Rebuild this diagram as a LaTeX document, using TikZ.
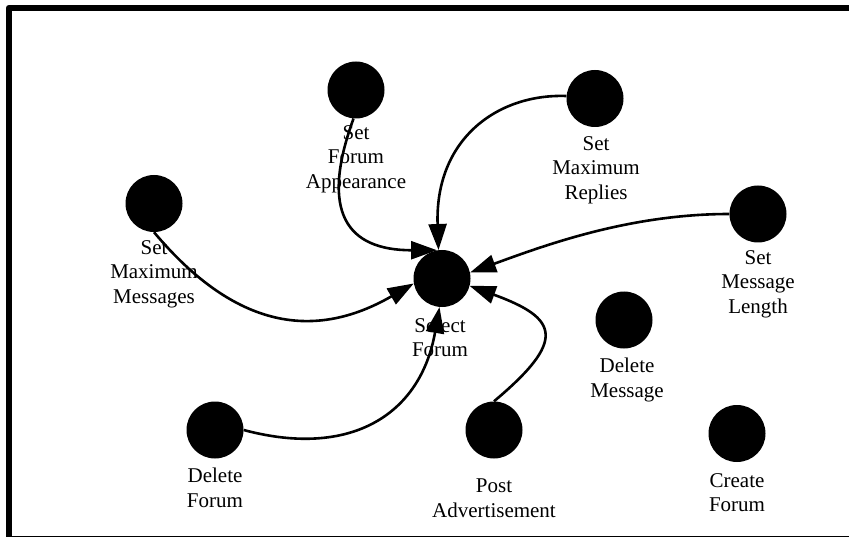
\documentclass[tikz,border=0pt]{standalone}
\usepackage{fontspec}
\setmainfont{Liberation Serif}
\usetikzlibrary{arrows.meta,calc}
\begin{document}
\begin{tikzpicture}[x=1pt,y=1pt,
  usecase/.style={circle,fill=black,minimum size=57pt,inner sep=0pt},
  caption/.style={anchor=north,inner sep=0pt,align=center,
    font=\fontsize{21}{24.5}\selectfont},
  flow/.style={line width=2.6pt,-{Triangle[length=26pt,width=18pt]}}]
\useasboundingbox (0,0) rectangle (849,539);

% frame: heavy left and top edges, thin bottom edge
\draw[line width=1.3pt] (9,2.5) -- (849,2.5);
\draw[line width=6pt,line join=round] (9,2.5) -- (9,531.3) -- (849,531.3);

% use cases
\node[usecase] (sf)  at (442,260.5) {};
\node[usecase] (sfa) at (356,449)   {};
\node[usecase] (smr) at (595,440.5) {};
\node[usecase] (smm) at (154,335.5) {};
\node[usecase] (sml) at (758,325)   {};
\node[usecase] (dm)  at (624,219)   {};
\node[usecase] (df)  at (215,109)   {};
\node[usecase] (pa)  at (494,109)   {};
\node[usecase] (cf)  at (737,105.5) {};

% captions
\node[caption] (sfl)  at ($(sf)+(-2,-39)$)   {Select\\Forum};
\node[caption] (sfal) at ($(sfa)+(0,-35)$)   {Set\\Forum\\Appearance};
\node[caption] (smrl) at ($(smr)+(1,-37.5)$) {Set\\Maximum\\Replies};
\node[caption] (smml) at ($(smm)+(0,-36.5)$) {Set\\Maximum\\Messages};
\node[caption] (smll) at ($(sml)+(0,-36)$)   {Set\\Message\\Length};
\node[caption] (dml)  at ($(dm)+(3,-38)$)    {Delete\\Message};
\node[caption] (dfl)  at ($(df)+(0,-38)$)    {Delete\\Forum};
\node[caption] (pal)  at ($(pa)+(0,-49)$)    {Post\\Advertisement};
\node[caption] (cfl)  at ($(cf)+(0,-39.5)$)  {Create\\Forum};

% connectors into Select Forum
\draw[flow] (smm.-90) to[out=-50,in=210,out distance=120pt,in distance=120pt] (sf.190);
\draw[flow] (sfa.-95) to[out=-110,in=180,out distance=100pt,in distance=90pt] (sf.100);
\draw[flow] (smr.175) to[out=178,in=92,out distance=70pt,in distance=110pt] (sf.97);
\draw[flow] (sml.west) to[out=180,in=20,out distance=100pt,in distance=80pt] (sf.12);
\draw[flow] (pa.north) to[out=40,in=-20,out distance=95pt,in distance=95pt] (sf.-15);
\draw[flow] (df.east) to[out=-15,in=-100,out distance=110pt,in distance=110pt] (sf.-95);
\end{tikzpicture}
\end{document}
